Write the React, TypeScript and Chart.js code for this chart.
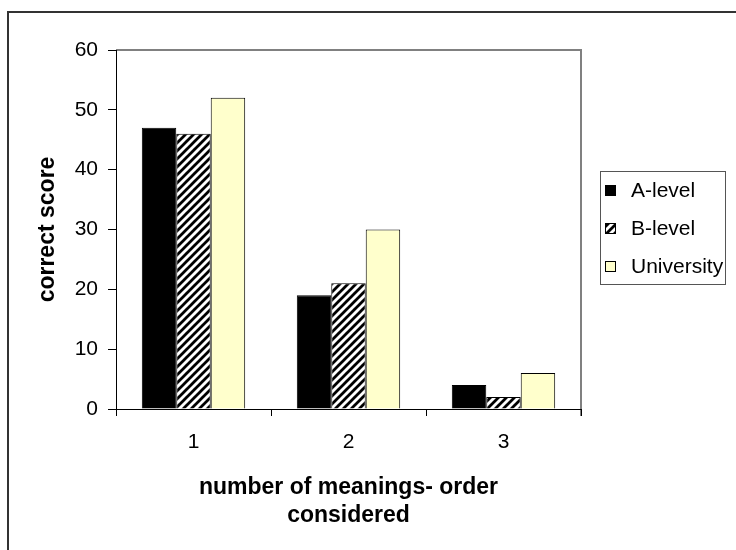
import React, { useEffect, useRef } from "react";
import { Chart, registerables } from "chart.js";

Chart.register(...registerables);

// Categories and series values
const categories = ["1", "2", "3"];
const aLevel = [47, 19, 4];
const bLevel = [46, 21, 2];
const university = [52, 30, 6];
const seriesNames = ["A-level", "B-level", "University"];

const yMin = 0;
const yMax = 60;
const yStep = 10;

const xTitle = ["number of meanings- order", "considered"];
const yTitle = "correct score";

const FONT = "'Liberation Sans', Arial, Helvetica, sans-serif";

function makeHatch(ctx: CanvasRenderingContext2D): CanvasPattern | string {
  const s = 8;
  const tile = document.createElement("canvas");
  tile.width = s;
  tile.height = s;
  const c = tile.getContext("2d");
  if (!c) return "#777";
  c.fillStyle = "#ffffff";
  c.fillRect(0, 0, s, s);
  c.strokeStyle = "#000000";
  c.lineWidth = 2.8;
  c.beginPath();
  for (const o of [-s, 0, s]) {
    c.moveTo(o - 1, s + 1);
    c.lineTo(o + s + 1, -1);
  }
  c.stroke();
  return ctx.createPattern(tile, "repeat") || "#777";
}

// Outer frame and grey plot-area edges
const framePlugin = {
  id: "frame",
  beforeDraw(chart: any) {
    const { ctx, chartArea } = chart;
    ctx.save();
    ctx.fillStyle = "#ffffff";
    ctx.fillRect(0, 0, chart.width, chart.height);
    ctx.strokeStyle = "#333333";
    ctx.lineWidth = 2;
    ctx.beginPath();
    ctx.moveTo(8, chart.height + 2);
    ctx.lineTo(8, 12);
    ctx.lineTo(chart.width + 2, 12);
    ctx.stroke();
    ctx.strokeStyle = "#808080";
    ctx.lineWidth = 2;
    ctx.beginPath();
    ctx.moveTo(chartArea.left, chartArea.top);
    ctx.lineTo(chartArea.right, chartArea.top);
    ctx.lineTo(chartArea.right, chartArea.bottom + 7);
    ctx.stroke();
    ctx.restore();
  },
};

// Boxed legend to the right of the plot
const legendBox = {
  left: 600,
  top: 171,
  right: 725,
  bottom: 284,
  firstRow: 190,
  rowGap: 38,
  markerX: 605,
  marker: 11,
  textX: 631,
};

const boxLegendPlugin = {
  id: "boxLegend",
  afterDraw(chart: any) {
    const { ctx } = chart;
    const b = legendBox;
    ctx.save();
    ctx.fillStyle = "#ffffff";
    ctx.fillRect(b.left, b.top, b.right - b.left, b.bottom - b.top);
    ctx.strokeStyle = "#555555";
    ctx.lineWidth = 1;
    ctx.strokeRect(b.left + 0.5, b.top + 0.5, b.right - b.left, b.bottom - b.top);
    chart.data.datasets.forEach((ds: any, i: number) => {
      const cy = b.firstRow + i * b.rowGap;
      const top = Math.round(cy - b.marker / 2);
      ctx.fillStyle = ds.backgroundColor;
      ctx.fillRect(b.markerX, top, b.marker, b.marker);
      ctx.strokeStyle = "#000000";
      ctx.lineWidth = 1;
      ctx.strokeRect(b.markerX + 0.5, top + 0.5, b.marker - 1, b.marker - 1);
      ctx.fillStyle = "#000000";
      ctx.font = `21px ${FONT}`;
      ctx.textAlign = "left";
      ctx.textBaseline = "middle";
      ctx.fillText(ds.label, b.textX, cy + 1);
    });
    ctx.restore();
  },
};

export default function App() {
  const canvasRef = useRef<HTMLCanvasElement | null>(null);

  useEffect(() => {
    const canvas = canvasRef.current;
    if (!canvas) return;
    const ctx = canvas.getContext("2d");
    if (!ctx) return;
    const hatch = makeHatch(ctx);

    const chart = new Chart(ctx, {
      type: "bar",
      data: {
        labels: categories,
        datasets: [
          {
            label: seriesNames[0],
            data: aLevel,
            backgroundColor: "#000000",
            borderColor: "#000000",
            borderWidth: 1,
          },
          {
            label: seriesNames[1],
            data: bLevel,
            backgroundColor: hatch as any,
            borderColor: "#000000",
            borderWidth: 1,
          },
          {
            label: seriesNames[2],
            data: university,
            backgroundColor: "#ffffcc",
            borderColor: "#000000",
            borderWidth: 1,
          },
        ],
      },
      options: {
        responsive: false,
        animation: false,
        devicePixelRatio: 1,
        layout: { padding: { top: 50, right: 155, left: 0, bottom: 0 } },
        datasets: {
          bar: { categoryPercentage: 0.667, barPercentage: 1 },
        },
        plugins: {
          legend: { display: false },
          tooltip: { enabled: false },
        },
        scales: {
          x: {
            offset: true,
            afterFit: (scale: any) => {
              scale.height = 141;
            },
            grid: {
              offset: true,
              drawOnChartArea: false,
              drawTicks: true,
              tickLength: 7,
              color: "#000000",
            },
            border: { display: true, color: "#000000", width: 1 },
            ticks: {
              color: "#000000",
              padding: 14,
              font: { family: FONT, size: 21 },
            },
            title: {
              display: true,
              text: xTitle,
              color: "#000000",
              padding: { top: 0, bottom: 21 },
              font: { family: FONT, size: 23, weight: "bold", lineHeight: 1.2 },
            },
          },
          y: {
            min: yMin,
            max: yMax,
            afterFit: (scale: any) => {
              scale.width = 116;
            },
            grid: {
              drawOnChartArea: false,
              drawTicks: true,
              tickLength: 8,
              color: "#000000",
            },
            border: { display: true, color: "#000000", width: 1 },
            ticks: {
              stepSize: yStep,
              color: "#000000",
              padding: 10,
              font: { family: FONT, size: 21 },
            },
            title: {
              display: true,
              text: yTitle,
              color: "#000000",
              padding: { top: 34, bottom: 0 },
              font: { family: FONT, size: 23, weight: "bold", lineHeight: 1.2 },
            },
          },
        },
      },
      plugins: [framePlugin, boxLegendPlugin],
    });

    return () => {
      chart.destroy();
    };
  }, []);

  return (
    <div style={{ position: "fixed", left: 0, top: 0, width: 736, height: 550, background: "#ffffff" }}>
      <canvas ref={canvasRef} width={736} height={550} style={{ display: "block", width: 736, height: 550 }} />
    </div>
  );
}
